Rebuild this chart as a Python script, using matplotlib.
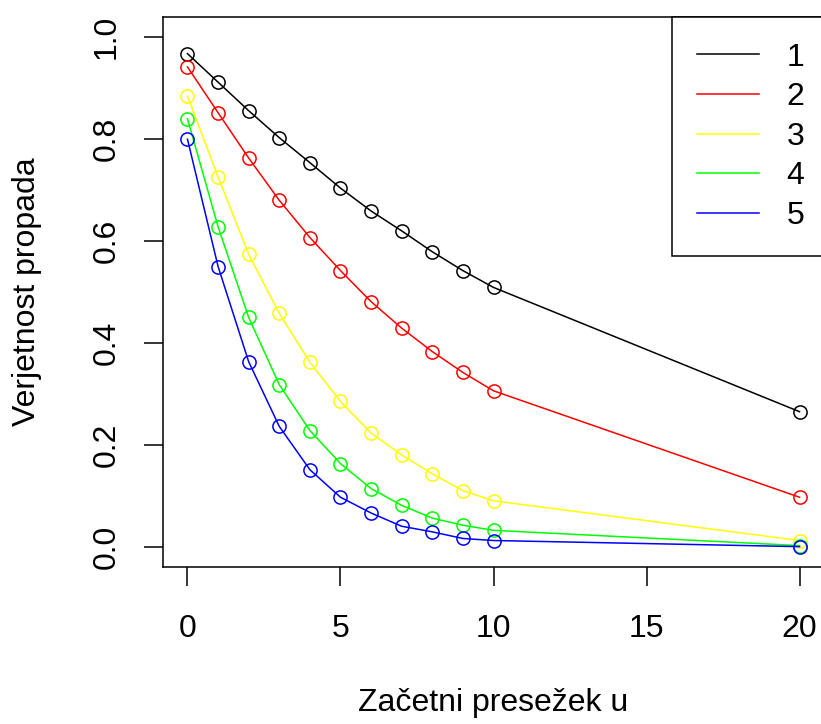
import numpy as np
import matplotlib.pyplot as plt

plt.rcParams['font.family'] = ['Liberation Sans', 'DejaVu Sans']

### data
u = [0, 1, 2, 3, 4, 5, 6, 7, 8, 9, 10, 20]
p1 = [0.968, 0.912, 0.856, 0.803, 0.754, 0.704, 0.659, 0.620, 0.579, 0.542, 0.509, 0.265]
p2 = [0.942, 0.852, 0.763, 0.680, 0.607, 0.542, 0.481, 0.429, 0.383, 0.342, 0.306, 0.097]
p3 = [0.885, 0.726, 0.574, 0.458, 0.362, 0.285, 0.223, 0.180, 0.143, 0.110, 0.090, 0.012]
p4 = [0.840, 0.628, 0.450, 0.318, 0.228, 0.163, 0.114, 0.081, 0.056, 0.042, 0.032, 0.002]
p5 = [0.800, 0.550, 0.363, 0.236, 0.151, 0.097, 0.066, 0.040, 0.029, 0.016, 0.012, 0.000]
labels = ['1', '2', '3', '4', '5']
colors = ['#000000', '#FF0000', '#FFFF00', '#00FF00', '#0000FF']

fig = plt.figure(figsize=(8.21, 7.24), dpi=100)
ax = fig.add_axes([163 / 821, 1 - 567 / 724, (824 - 163) / 821, (567 - 17) / 724])

for p, lab, c in zip([p1, p2, p3, p4, p5], labels, colors):
    ax.plot(u, p, color=c, lw=1.1, label=lab)
    ax.plot(u, p, 'o', mfc='none', mec=c, ms=9.5, mew=1.1)

ax.set_xlim(-0.8, 20.8)
ax.set_ylim(-0.04, 1.04)
ax.set_xticks([0, 5, 10, 15, 20])
ax.set_yticks([0.0, 0.2, 0.4, 0.6, 0.8, 1.0])
ax.set_yticklabels(['0.0', '0.2', '0.4', '0.6', '0.8', '1.0'])
ax.tick_params(axis='both', direction='out', length=13.5, width=1.1, labelsize=23)
ax.tick_params(axis='x', pad=20)
ax.tick_params(axis='y', pad=16, labelrotation=90)
for lbl in ax.get_yticklabels():
    lbl.set_va('center')
for s in ax.spines.values():
    s.set_linewidth(1.1)

ax.set_xlabel('Začetni presežek u', fontsize=23, labelpad=32)
ax.set_ylabel('Verjetnost propada', fontsize=23, labelpad=36)

# legend box runs past the right edge like in the original
leg = ax.legend(loc='upper right', bbox_to_anchor=(1 + 6 / 661, 1), borderaxespad=0,
                fontsize=23, fancybox=False, edgecolor='black', framealpha=1,
                handlelength=1.95, handletextpad=0.85, labelspacing=0.3, borderpad=0.8)
leg.get_frame().set_linewidth(1.1)

fig.savefig('out.png', dpi=100)
